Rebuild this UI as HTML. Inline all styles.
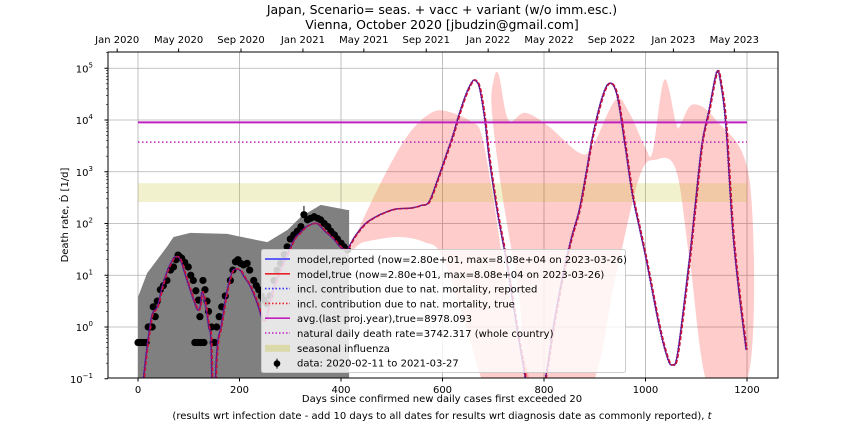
<!DOCTYPE html>
<html><head><meta charset="utf-8"><style>
html,body{margin:0;padding:0;background:#fff;}
svg{display:block;font-family:"DejaVu Sans","Liberation Sans",sans-serif;}
</style></head><body>
<svg id="chart" width="864" height="432" viewBox="0 0 864 432">
<defs><clipPath id="clip"><rect x="108" y="52" width="670" height="326"/></clipPath></defs>
<text x="442" y="14" text-anchor="middle" font-size="12.5">Japan, Scenario= seas. + vacc + variant (w/o imm.esc.)</text>
<text x="442" y="29" text-anchor="middle" font-size="12.5">Vienna, October 2020 [jbudzin@gmail.com]</text>
<g id="grid"></g>
<g id="plot" clip-path="url(#clip)"></g>
<g id="axes"></g>
<g id="legend"></g>
<text x="442" y="402" text-anchor="middle" font-size="10">Days since confirmed new daily cases first exceeded 20</text>
<text x="442" y="419" text-anchor="middle" font-size="10">(results wrt infection date - add 10 days to all dates for results wrt diagnosis date as commonly reported), <tspan font-style="italic">t</tspan></text>
<text transform="translate(68,215) rotate(-90)" text-anchor="middle" font-size="10">Death rate, Ḋ [1/d]</text>
</svg>
<script>
const xTicks=[0,200,400,600,800,1000,1200];
const yTicks=[-1,0,1,2,3,4,5];
const topTickLabels=["Jan 2020","May 2020","Sep 2020","Jan 2021","May 2021","Sep 2021","Jan 2022","May 2022","Sep 2022","Jan 2023","May 2023"];
const topTickDays=[-41,80,203,325,445,568,690,810,933,1055,1175];
const modelDays=[10,18,25,30,40,50,60,70,77,85,95,105,112,119,124,128,135,141,145,148,153,156,160,165,175,182,189,202,212,222,235,248,255,262,274,294,310,321,335,354,370,387,400,413,420,431,450,470,490,510,540,560,575,592,609,622,634,648,660,667,675,685,694,710,727,743,759,775,790,806,820,838,855,871,885,897,915,930,945,960,975,990,1003,1029,1045,1054,1065,1088,1100,1113,1127,1142,1150,1160,1173,1186,1200];
const modelLog=[-1.2,-0.5,0,0.26,0.4,0.8,1.1,1.3,1.36,1.3,1.0,0.7,0.5,0.33,0.4,0.68,0.4,0,-0.2,-1.2,-1.2,-0.6,-0.2,0,0.6,0.9,1.1,1.1,0.95,0.8,0.5,0.13,0.2,0.5,0.9,1.36,1.7,1.82,1.95,2.0,1.85,1.7,1.55,1.49,1.6,1.78,2.0,2.13,2.22,2.28,2.3,2.35,2.42,2.85,3.33,3.7,4.1,4.5,4.74,4.76,4.6,4.0,3.23,2.2,1.3,0.3,-0.64,-1.5,-1.6,-0.9,0,0.97,1.7,2.26,3.0,3.67,4.4,4.71,4.5,3.6,2.6,1.9,1.3,0,-0.6,-0.73,-0.5,1.3,2.4,3.55,4.2,4.93,4.7,3.9,1.93,0.66,-0.44];
const dataDays=[0,4,8,12,16,20,24,28,30,34,38,44,50,57,64,70,75,79,83,86,92,99,104,109,114,119,122,128,132,136,139,112,118,124,130,145,148,151,155,160,165,172,182,187,192,197,202,208,215,220,228,233,238,243,248,254,260,268,274,281,288,294,300,307,314,321,327,334,340,347,354,360,367,374,380,387,393,400,406,413];
const dataLog=[-0.3,-0.3,-0.3,-0.3,-0.3,0,0,0,0.39,0.2,0.5,0.72,0.8,0.9,1.1,1.16,1.3,1.39,1.35,1.33,1.25,1.16,1.0,0.9,0.7,0.52,0.2,0.9,0.72,0.5,0.3,-0.3,-0.3,-0.3,-0.3,0,-0.3,-0.3,0,0.2,0.39,0.6,0.9,1.1,1.26,1.3,1.23,1.2,1.23,1.1,0.9,0.8,0.72,0.6,0.52,0.45,0.6,0.9,1.1,1.23,1.4,1.55,1.7,1.78,1.85,1.94,2.17,2.07,2.1,2.13,2.1,2.07,2.0,1.94,1.85,1.78,1.7,1.62,1.55,1.49];
const greyDays=[0,18,57,70,103,176,194,255,295,321,360,413,416];
const greyLog=[0.58,1.04,1.55,1.74,1.82,1.8,1.76,1.64,1.88,2.13,2.36,2.26,2.26];
const band1Days=[420,479,532,578,612,657,677,700,720,745,770,700,677,644,598,564,513,445];
const band1Log=[1.53,2.8,3.71,4.14,4.16,3.97,3.71,2.5,1.2,0,-1.2,-1.2,-1.0,0.1,1.39,1.64,1.74,1.64];
const band2Days=[776,750,717,697,701,711,730,763,810,869,895,941,968,1000,1014,1037,1060,1067,1093,1139,1205,1205,1126,1087,1060,1020,988,941,889];
const band2Log=[-1.2,0.66,2.6,4.2,4.78,4.87,4.0,4.14,3.87,3.37,3.48,4.39,4.14,3.46,3.39,4.78,3.95,3.87,4.3,4.0,2.84,-0.83,-1.2,1.3,3.04,3.23,2.9,0.97,-1.2];
const avgTrue=[8978.093];
const naturalRate=[3742.317];
const fluRange=[260,600];
const outlierDay=[327];

const NS="http://www.w3.org/2000/svg";
const L=108,R=778,T=52,B=378;
function xs(d){return 138+d*0.5075;}
function ys(l){return 327-l*51.75;}
function mk(tag,attrs,parent){const e=document.createElementNS(NS,tag);for(const k in attrs)e.setAttribute(k,attrs[k]);parent.appendChild(e);return e;}
function smooth(pts,closed){
  const n=pts.length;let p='M'+pts[0][0].toFixed(1)+','+pts[0][1].toFixed(1);
  const g=i=>closed?pts[(i+n)%n]:pts[Math.max(0,Math.min(n-1,i))];
  const m=closed?n:n-1;
  for(let i=0;i<m;i++){const p0=g(i-1),p1=g(i),p2=g(i+1),p3=g(i+2);
    const c1=[p1[0]+(p2[0]-p0[0])/6,p1[1]+(p2[1]-p0[1])/6],c2=[p2[0]-(p3[0]-p1[0])/6,p2[1]-(p3[1]-p1[1])/6];
    p+=' C'+c1[0].toFixed(1)+','+c1[1].toFixed(1)+' '+c2[0].toFixed(1)+','+c2[1].toFixed(1)+' '+p2[0].toFixed(1)+','+p2[1].toFixed(1);}
  return p+(closed?' Z':'');}
const grid=document.getElementById('grid'),plot=document.getElementById('plot'),axes=document.getElementById('axes'),leg=document.getElementById('legend');

xTicks.forEach(t=>{const g=mk('line',{x1:xs(t),x2:xs(t),y1:T,y2:B,stroke:'#b0b0b0','stroke-width':0.8},grid);

});
yTicks.forEach(t=>{if(t<=-1)return;const g=mk('line',{x1:L,x2:R,y1:ys(t),y2:ys(t),stroke:'#b0b0b0','stroke-width':0.8},grid);

});

let gp='M'+xs(greyDays[0])+','+B;
greyDays.forEach((d,i)=>{gp+=' L'+xs(d)+','+ys(greyLog[i]);});
gp+=' L'+xs(greyDays[greyDays.length-1])+','+B+' Z';
const gb=mk('path',{d:gp,fill:'#808080'},plot);



function poly(days,logs,name){const pts=days.map((d,i)=>[xs(d),ys(logs[i])]);
const e=mk('path',{d:smooth(pts,true),fill:'rgba(255,0,0,0.2)'},plot);

}
poly(band1Days,band1Log,'projection-band-1');
poly(band2Days,band2Log,'projection-band-2');

const flu=mk('rect',{x:xs(0),width:xs(1200)-xs(0),y:ys(Math.log10(fluRange[1])),height:ys(Math.log10(fluRange[0]))-ys(Math.log10(fluRange[1])),fill:'rgba(189,189,34,0.22)'},plot);



dataDays.forEach((d,i)=>{const c=mk('circle',{cx:xs(d),cy:ys(dataLog[i]),r:3.6,fill:'#000'},plot);

});
const oi=dataDays.indexOf(outlierDay[0]);
const eb=mk('line',{x1:xs(outlierDay[0]),x2:xs(outlierDay[0]),y1:ys(dataLog[oi]),y2:ys(dataLog[oi]+0.17),stroke:'#000','stroke-width':1},plot);



function linePath(shift){return smooth(modelDays.map((d,i)=>[xs(d+shift),ys(modelLog[i])]),false);}
const l1=mk('path',{d:linePath(-1.5),fill:'none',stroke:'#6a1080','stroke-width':1.4,'stroke-linejoin':'round'},plot);


const l2=mk('path',{d:linePath(0),fill:'none',stroke:'#c8103a','stroke-width':1.6,'stroke-dasharray':'4 2','stroke-linejoin':'round'},plot);


const l3=mk('path',{d:linePath(-2.5),fill:'none',stroke:'#4020c0','stroke-width':1,'stroke-dasharray':'1 2'},plot);



const av=mk('line',{x1:xs(0),x2:xs(1200),y1:ys(Math.log10(avgTrue[0])),y2:ys(Math.log10(avgTrue[0])),stroke:'#c020c0','stroke-width':2},plot);


const nr=mk('line',{x1:xs(0),x2:xs(1200),y1:ys(Math.log10(naturalRate[0])),y2:ys(Math.log10(naturalRate[0])),stroke:'#c020c0','stroke-width':1.5,'stroke-dasharray':'1.5 2.5'},plot);



const fr=mk('rect',{x:L,y:T,width:R-L,height:B-T,fill:'none',stroke:'#000','stroke-width':1},axes);


xTicks.forEach(t=>{mk('line',{x1:xs(t),x2:xs(t),y1:B,y2:B+3.5,stroke:'#000'},axes);
const tx=mk('text',{x:xs(t),y:B+15,'text-anchor':'middle','font-size':10},axes);tx.textContent=t;

});
topTickDays.forEach((d,i)=>{mk('line',{x1:xs(d),x2:xs(d),y1:T,y2:T-3.5,stroke:'#000'},axes);
const tx=mk('text',{x:xs(d),y:T-9,'text-anchor':'middle','font-size':10},axes);tx.textContent=topTickLabels[i];

});
yTicks.forEach(t=>{mk('line',{x1:L,x2:L-3.5,y1:ys(t),y2:ys(t),stroke:'#000'},axes);
for(let m=2;m<10;m++){const y=ys(t+Math.log10(m));if(y>T&&y<B)mk('line',{x1:L,x2:L-2,y1:y,y2:y,stroke:'#000','stroke-width':0.6},axes);}
const tx=mk('text',{x:L-15,y:ys(t)+4,'text-anchor':'end','font-size':10},axes);tx.textContent='10';
const sp=mk('tspan',{dy:-5,'font-size':7},tx);sp.textContent=String(t).replace('-','−');

});

const lb=mk('rect',{x:261.5,y:249.5,width:364,height:123,rx:2,fill:'rgba(255,255,255,0.8)',stroke:'#cccccc'},leg);


const items=[['model,reported (now=2.80e+01, max=8.08e+04 on 2023-03-26)','#3030ff',''],
['model,true (now=2.80e+01, max=8.08e+04 on 2023-03-26)','#e8202a',''],
['incl. contribution due to nat. mortality, reported','#3030ff','1.5 2'],
['incl. contribution due to nat. mortality, true','#e8202a','1.5 2'],
['avg.(last proj.year),true=8978.093','#c020c0',''],
['natural daily death rate=3742.317 (whole country)','#c020c0','1.5 2'],
['seasonal influenza','flu',''],
['data: 2020-02-11 to 2021-03-27','dot','']];
items.forEach((it,i)=>{const y=259+i*14.8;
if(it[1]==='flu'){mk('rect',{x:265,y:y-3,width:25,height:7,fill:'rgba(189,189,34,0.3)'},leg);}
else if(it[1]==='dot'){mk('circle',{cx:277,cy:y+1,r:3.3,fill:'#000'},leg);mk('line',{x1:277,x2:277,y1:y-4,y2:y+6,stroke:'#000'},leg);}
else{const a={x1:265,x2:290,y1:y,y2:y,stroke:it[1],'stroke-width':1.6};if(it[2])a['stroke-dasharray']=it[2];mk('line',a,leg);}
const tx=mk('text',{x:297,y:y+4,'font-size':10},leg);tx.textContent=it[0];

});
</script>
</body></html>
